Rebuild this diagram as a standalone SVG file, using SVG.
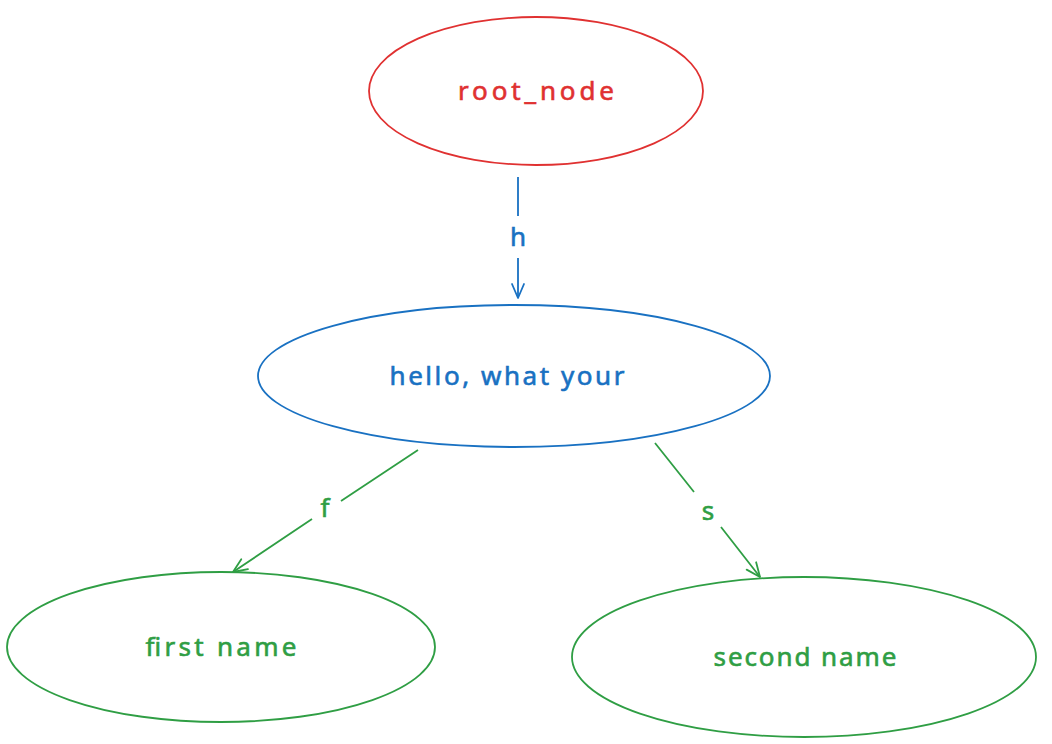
<svg xmlns="http://www.w3.org/2000/svg" width="1052" height="744" viewBox="0 0 1052 744">
<defs>
<style>
.red{stroke:#e03131;fill:none;stroke-width:1.8}
.blue{stroke:#1971c2;fill:none;stroke-width:1.8}
.green{stroke:#2f9e44;fill:none;stroke-width:1.8}
.lbl{font-family:"Noto Sans","Liberation Sans",Arial,sans-serif;font-size:26px;text-anchor:middle;stroke-width:0.6}
.tr{fill:#e03131;stroke:#e03131}.tb{fill:#1971c2;stroke:#1971c2}.tg{fill:#2f9e44;stroke:#2f9e44}
</style>
<marker id="ab" markerUnits="userSpaceOnUse" markerWidth="20" markerHeight="20" refX="0" refY="0" viewBox="-16 -10 20 20" orient="auto"><path d="M-14,-6 L0,0 L-14,6" fill="none" stroke="#1971c2" stroke-width="1.8" stroke-linecap="round" stroke-linejoin="round"/></marker>
<marker id="ag" markerUnits="userSpaceOnUse" markerWidth="20" markerHeight="20" refX="0" refY="0" viewBox="-16 -10 20 20" orient="auto"><path d="M-14,-6 L0,0 L-14,6" fill="none" stroke="#2f9e44" stroke-width="1.8" stroke-linecap="round" stroke-linejoin="round"/></marker>
</defs>
<rect width="1052" height="744" fill="#ffffff"/>
<g id="connectors">
<path class="blue" d="M518,177 L518,216 M518,258 L518,298" marker-end="url(#ab)"/>
<text class="lbl tb" x="518" y="246">h</text>
<path class="green" d="M418,450 L341,501 M312,519 L233,572" marker-end="url(#ag)"/>
<text class="lbl tg" x="325" y="517">f</text>
<path class="green" d="M655,443 L694,492 M721,527 L760,577" marker-end="url(#ag)"/>
<text class="lbl tg" x="708" y="520">s</text>
</g>
<g id="root_node">
<ellipse class="red" cx="536" cy="91" rx="167" ry="74"/>
<text class="lbl tr" x="536" y="100" textLength="156" lengthAdjust="spacing">root_node</text>
</g>
<g id="hello">
<ellipse class="blue" cx="514" cy="376" rx="256" ry="71"/>
<text class="lbl tb" x="507" y="385" textLength="235" lengthAdjust="spacing">hello, what your</text>
</g>
<g id="first_name">
<ellipse class="green" cx="221" cy="647" rx="214" ry="75"/>
<text class="lbl tg" x="221" y="656" textLength="151" lengthAdjust="spacing">first name</text>
</g>
<g id="second_name">
<ellipse class="green" cx="804" cy="657" rx="232" ry="80"/>
<text class="lbl tg" x="805" y="666" textLength="183" lengthAdjust="spacing">second name</text>
</g>
</svg>
